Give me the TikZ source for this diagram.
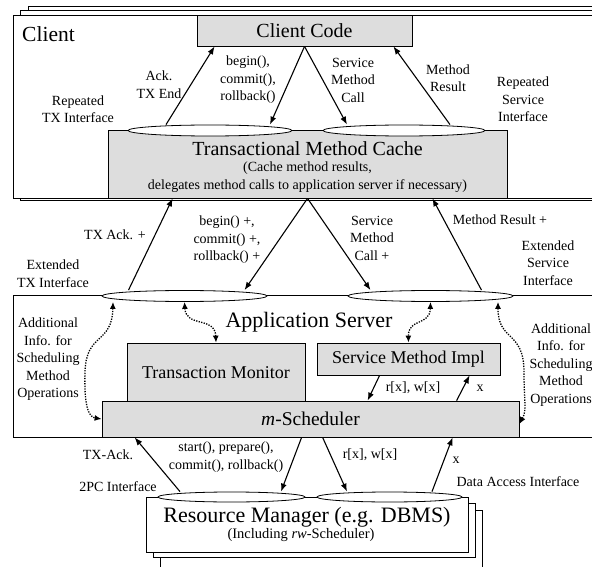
\documentclass[tikz,border=0pt]{standalone}
\usepackage{fontspec}
\setmainfont{Liberation Serif}
\usetikzlibrary{arrows.meta,shapes.geometric,fit}
\definecolor{boxgray}{RGB}{221,221,221}
\tikzset{
  layer/.style={draw,fill=white,line width=0.8pt},
  box/.style={draw,fill=boxgray,line width=0.8pt,inner sep=0pt},
  port/.style={draw,ellipse,fill=white,line width=0.8pt,inner sep=0pt},
  flow/.style={line width=1.1pt,-{Latex[length=8pt,width=6pt]}},
  info/.style={line width=1.3pt,dash pattern=on 1.3pt off 1.3pt,{Latex[length=7pt,width=6pt]}-{Latex[length=7pt,width=6pt]}},
  lbl/.style={font=\fontsize{14}{17.5}\selectfont,align=center,inner sep=0pt},
  big/.style={font=\fontsize{20}{24}\selectfont,inner sep=0pt},
  mid/.style={font=\fontsize{18}{22}\selectfont,inner sep=0pt},
}
\begin{document}
\begin{tikzpicture}[x=1pt,y=1pt,yscale=-1,xscale=1]
	\useasboundingbox (0,0) rectangle (592,567);
	\clip (0,0) rectangle (592,567);

	% Client layers
	\draw[layer] (28,6) rectangle (640,200);
	\draw[layer] (20,10) rectangle (640,200);
	\draw[layer] (13,15) rectangle (640,198);
	\node[font=\fontsize{21.5}{24}\selectfont,inner sep=0pt] (client) at (48.5,34) {Client};

	% Client Code and cache
	\node[box,fit={(197,15) (412,46)}] (code) {};
	\node[big] (codename) at (code.center) {Client Code};
	\node[box,fit={(108,130.5) (507,198)}] (cache) {};
	\node[port,minimum width=164pt,minimum height=11pt] (txl) at (210,130.5) {};
	\node[port,minimum width=162pt,minimum height=11pt] (txr) at (404,130.5) {};
	\node[big] (cachename) at (307.5,149) {Transactional Method Cache};
	\node[lbl] (cachenote) at (307.5,177) {(Cache method results,\\delegates method calls to application server if necessary)};

	% Application Server
	\draw[layer] (13,295) rectangle (640,437);
	\node[port,minimum width=165pt,minimum height=11pt] (exl) at (184.5,296) {};
	\node[port,minimum width=165pt,minimum height=11pt] (exr) at (430.5,296) {};
	\node[font=\fontsize{22}{26}\selectfont,inner sep=0pt] (appserver) at (309,322) {Application Server};
	\node[box,fit={(127,343) (305,401)}] (tm) {};
	\node[mid] (tmname) at (216,373) {Transaction Monitor};
	\node[box,fit={(317,343) (500,375)}] (smi) {};
	\node[mid] (sminame) at (smi.center) {Service Method Impl};
	\node[box,fit={(102,401) (519,437)}] (sched) {};
	\node[font=\fontsize{19.5}{22}\selectfont,inner sep=0pt] (schedname) at (sched.center) {\textit{m}-Scheduler};

	% Resource Manager
	\draw[layer] (160,510) rectangle (482,580);
	\draw[layer] (153,503) rectangle (475,557);
	\node[draw,fill=white,line width=0.8pt,inner sep=0pt,fit={(146,497) (468,552)}] (rm) {};
	\node[port,minimum width=147pt,minimum height=10pt] (rml) at (231.5,497) {};
	\node[port,minimum width=145pt,minimum height=10pt] (rmr) at (389.5,497) {};
	\node[font=\fontsize{22}{26}\selectfont,inner sep=0pt] (rmname) at (307,517) {Resource Manager (e.g. DBMS)};
	\node[font=\fontsize{14.5}{17}\selectfont,inner sep=0pt] (rmnote) at (301,535.5) {(Including \textit{rw}-Scheduler)};

	% Client arrows
	\draw[flow] ([xshift=-44pt]txl.north) -- ([xshift=18pt]code.south west);
	\draw[flow] (code.south) -- ([xshift=60pt]txl.north);
	\draw[flow] (code.south) -- ([xshift=-57pt]txr.north);
	\draw[flow] ([xshift=46pt]txr.north) -- ([xshift=-19pt]code.south east);

	% Cache arrows
	\draw[flow] ([xshift=-56pt]exl.north) -- ([xshift=65pt]cache.south west);
	\draw[flow] (cache.south) -- ([xshift=60pt]exl.north);
	\draw[flow] (cache.south) -- ([xshift=-60pt]exr.north);
	\draw[flow] ([xshift=51pt]exr.north) -- ([xshift=-75pt]cache.south east);

	% Scheduling info
	\draw[info] ([xshift=-71.5pt]exl.south) .. controls (112,345) and (86,332) .. (85,372) .. controls (84,404) and (88,417) .. (sched.west);
	\draw[info] (exl.south) .. controls (186,328) and (215,316) .. (tm.north);
	\draw[info] (exr.south) .. controls (430,326) and (408,318) .. (smi.north);
	\draw[info] ([xshift=67.5pt]exr.south) .. controls (498,342) and (524,330) .. (524,372) .. controls (524,402) and (527,410) .. ([yshift=5pt]sched.east);

	% Method Impl and m-Scheduler
	\draw[flow] ([xshift=63pt]smi.south west) -- ([xshift=266pt]sched.north west);
	\draw[flow] ([xshift=355pt]sched.north west) -- ([xshift=153pt]smi.south west);

	% m-Scheduler and Resource Manager
	\draw[flow] ([xshift=-51.5pt]rml.north) -- ([xshift=33pt]sched.south west);
	\draw[flow] ([xshift=200pt]sched.south west) -- ([xshift=49.5pt]rml.north);
	\draw[flow] ([xshift=221pt]sched.south west) -- ([xshift=-42.5pt]rmr.north);
	\draw[flow] ([xshift=42.5pt]rmr.north) -- ([xshift=351pt]sched.south west);

	% Labels
	\node[lbl] (l1) at (159,84.5) {Ack.\\TX End};
	\node[lbl] (l2) at (78,109) {Repeated\\TX Interface};
	\node[lbl] (l3) at (248,80) {begin(),\\commit(),\\rollback()};
	\node[lbl] (l4) at (353,80) {Service\\Method\\Call};
	\node[lbl] (l5) at (448,78) {Method\\Result};
	\node[lbl] (l6) at (523,99.5) {Repeated\\Service\\Interface};
	\node[lbl] (l7) at (115,235) {TX Ack. +};
	\node[lbl] (l8) at (227,240) {begin() +,\\commit() +,\\rollback() +};
	\node[lbl] (l9) at (372,238) {Service\\Method\\Call +};
	\node[lbl] (l10) at (500,220) {Method Result +};
	\node[lbl] (l11) at (548,263) {Extended\\Service\\Interface};
	\node[lbl] (l12) at (53,273.5) {Extended\\TX Interface};
	\node[lbl] (l13) at (48,359.5) {Additional\\Info. for\\Scheduling\\Method\\Operations};
	\node[lbl] (l14) at (561,365) {Additional\\Info. for\\Scheduling\\Method\\Operations};
	\node[lbl] (l15) at (413,388) {r[x], w[x]};
	\node[lbl] (l16) at (480,388) {x};
	\node[lbl] (l17) at (108,455) {TX-Ack.};
	\node[lbl] (l18) at (118,487) {2PC Interface};
	\node[lbl] (l19) at (226,457) {start(), prepare(),\\commit(), rollback()};
	\node[lbl] (l20) at (370,455) {r[x], w[x]};
	\node[lbl] (l21) at (456,460) {x};
	\node[lbl] (l22) at (518,482) {Data Access Interface};
\end{tikzpicture}
\end{document}
